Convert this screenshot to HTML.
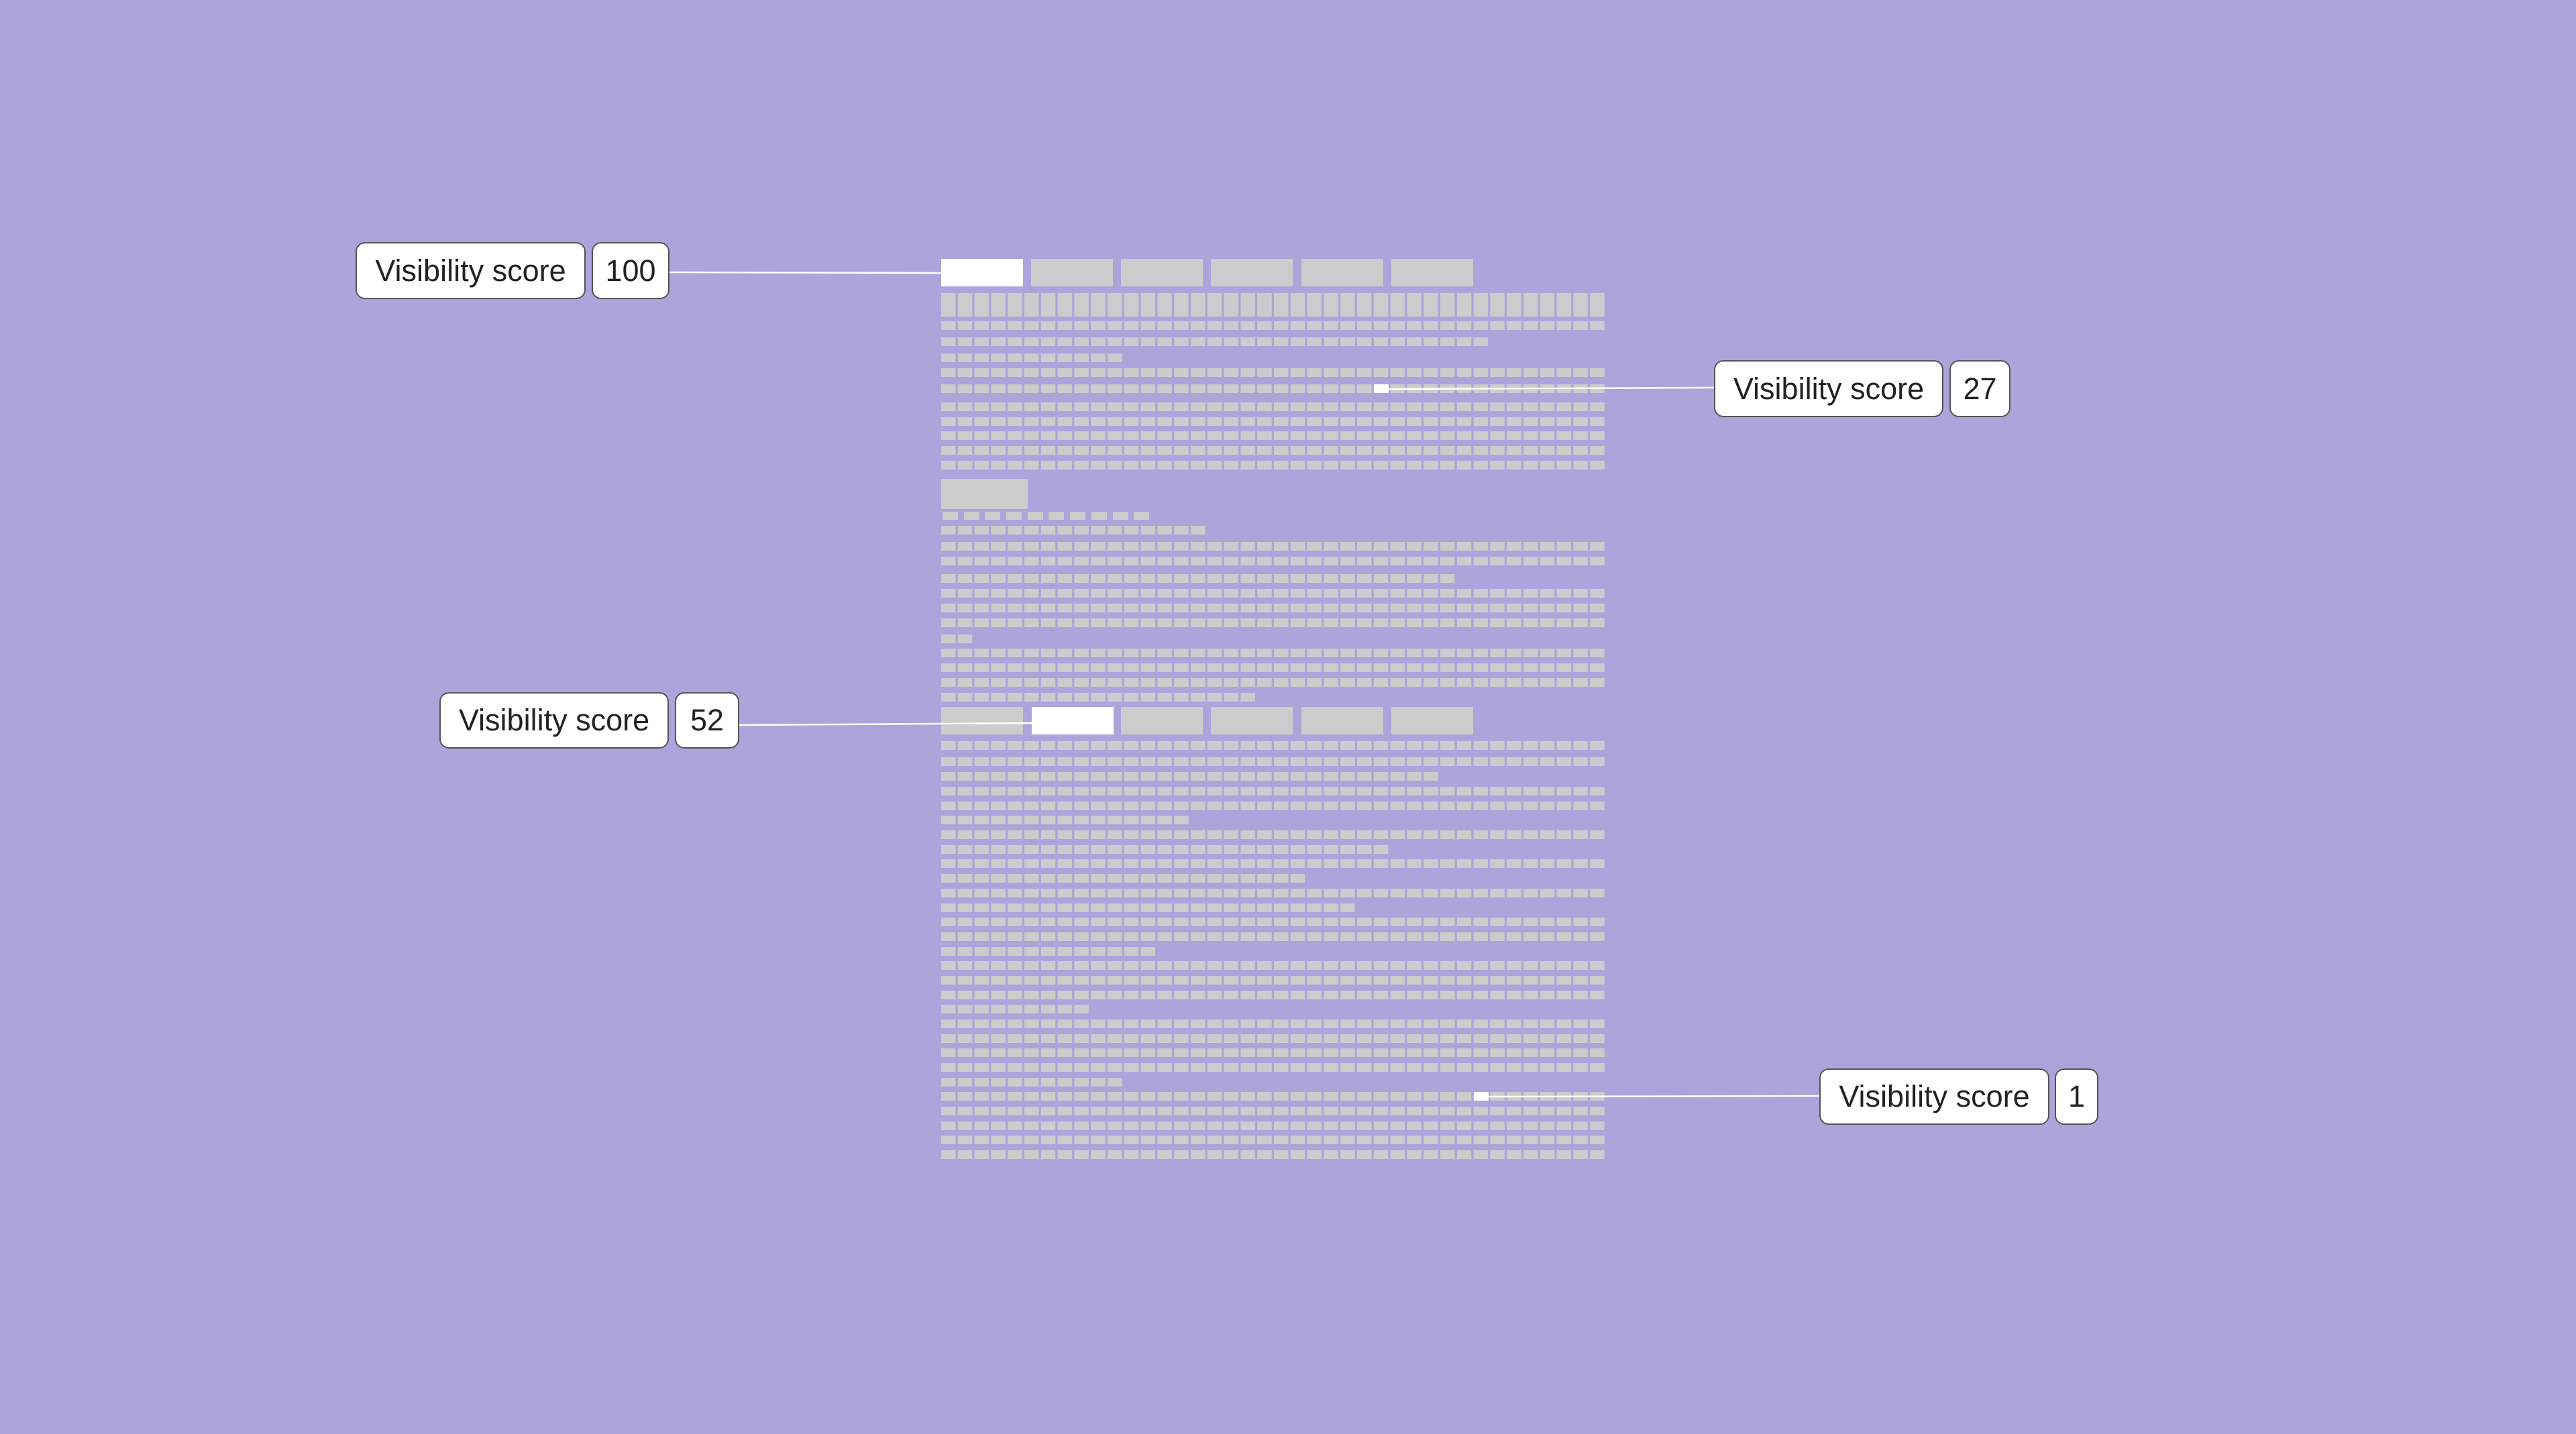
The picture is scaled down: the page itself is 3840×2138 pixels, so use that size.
<!DOCTYPE html>
<html><head><meta charset="utf-8">
<style>
html,body{margin:0;padding:0;background:#ABA5DB;}
body{width:3840px;height:2138px;overflow:hidden;position:relative;font-family:"Liberation Sans",sans-serif;}
svg{position:absolute;left:0;top:0;}
.b{position:absolute;box-sizing:border-box;background:#fff;border:2px solid #555;border-radius:14px;color:#222;font-size:45px;display:flex;align-items:center;justify-content:center;}
</style></head><body>
<svg width="3840" height="2138" viewBox="0 0 3840 2138">
<defs>
<pattern id="p" patternUnits="userSpaceOnUse" x="1403" y="0" width="24.8" height="2138">
<rect x="0" y="0" width="21.5" height="2138" fill="#CCCCCC"/>
</pattern>
</defs>
<g fill="url(#p)">
<rect x="1403" y="437" width="988.7" height="35"/>
<rect x="1403" y="479" width="988.7" height="13"/>
<rect x="1403" y="503" width="815.1" height="13"/>
<rect x="1403" y="527" width="269.5" height="13"/>
<rect x="1403" y="549" width="988.7" height="13"/>
<rect x="1403" y="573" width="988.7" height="13"/>
<rect x="1403" y="600" width="988.7" height="13"/>
<rect x="1403" y="622" width="988.7" height="13"/>
<rect x="1403" y="643" width="988.7" height="13"/>
<rect x="1403" y="665" width="988.7" height="13"/>
<rect x="1403" y="687" width="988.7" height="13"/>
<rect x="1403" y="784" width="393.5" height="13"/>
<rect x="1403" y="808" width="988.7" height="13"/>
<rect x="1403" y="830" width="988.7" height="13"/>
<rect x="1403" y="856" width="765.5" height="13"/>
<rect x="1403" y="878" width="988.7" height="13"/>
<rect x="1403" y="900" width="988.7" height="13"/>
<rect x="1403" y="922" width="988.7" height="13"/>
<rect x="1403" y="946" width="46.3" height="13"/>
<rect x="1403" y="967" width="988.7" height="13"/>
<rect x="1403" y="989" width="988.7" height="13"/>
<rect x="1403" y="1011" width="988.7" height="13"/>
<rect x="1403" y="1033" width="467.9" height="13"/>
<rect x="1403" y="1105" width="988.7" height="13"/>
<rect x="1403" y="1129" width="988.7" height="13"/>
<rect x="1403" y="1151" width="740.7" height="13"/>
<rect x="1403" y="1173" width="988.7" height="13"/>
<rect x="1403" y="1195" width="988.7" height="13"/>
<rect x="1403" y="1216" width="368.7" height="13"/>
<rect x="1403" y="1238" width="988.7" height="13"/>
<rect x="1403" y="1260" width="666.3" height="13"/>
<rect x="1403" y="1281" width="988.7" height="13"/>
<rect x="1403" y="1303" width="542.3" height="13"/>
<rect x="1403" y="1325" width="988.7" height="13"/>
<rect x="1403" y="1347" width="616.7" height="13"/>
<rect x="1403" y="1368" width="988.7" height="13"/>
<rect x="1403" y="1390" width="988.7" height="13"/>
<rect x="1403" y="1412" width="319.1" height="13"/>
<rect x="1403" y="1433" width="988.7" height="13"/>
<rect x="1403" y="1455" width="988.7" height="13"/>
<rect x="1403" y="1477" width="988.7" height="13"/>
<rect x="1403" y="1498" width="219.9" height="13"/>
<rect x="1403" y="1520" width="988.7" height="13"/>
<rect x="1403" y="1542" width="988.7" height="13"/>
<rect x="1403" y="1563" width="988.7" height="13"/>
<rect x="1403" y="1585" width="988.7" height="13"/>
<rect x="1403" y="1607" width="269.5" height="13"/>
<rect x="1403" y="1628" width="988.7" height="13"/>
<rect x="1403" y="1650" width="988.7" height="13"/>
<rect x="1403" y="1672" width="988.7" height="13"/>
<rect x="1403" y="1693" width="988.7" height="13"/>
<rect x="1403" y="1715" width="988.7" height="13"/>
</g>
<g fill="#CCCCCC">
<!-- tabs row 1 -->
<rect x="1537" y="386" width="122" height="41"/>
<rect x="1671" y="386" width="122" height="41"/>
<rect x="1805" y="386" width="122" height="41"/>
<rect x="1940" y="386" width="122" height="41"/>
<rect x="2074" y="386" width="122" height="41"/>
<!-- big block -->
<rect x="1403" y="714" width="129" height="45"/>
<!-- small squares -->
<rect x="1405" y="763" width="23" height="12"/>
<rect x="1437" y="763" width="23" height="12"/>
<rect x="1468" y="763" width="23" height="12"/>
<rect x="1500" y="763" width="23" height="12"/>
<rect x="1532" y="763" width="23" height="12"/>
<rect x="1563" y="763" width="23" height="12"/>
<rect x="1595" y="763" width="23" height="12"/>
<rect x="1627" y="763" width="23" height="12"/>
<rect x="1659" y="763" width="23" height="12"/>
<rect x="1690" y="763" width="23" height="12"/>
<!-- tabs row 2 -->
<rect x="1403" y="1054" width="122" height="41"/>
<rect x="1671" y="1054" width="122" height="41"/>
<rect x="1805" y="1054" width="122" height="41"/>
<rect x="1940" y="1054" width="122" height="41"/>
<rect x="2074" y="1054" width="122" height="41"/>
</g>
<g fill="#FFFFFF">
<rect x="1403" y="386" width="122" height="41"/>
<rect x="1538" y="1054" width="122" height="41"/>
<rect x="2048" y="573" width="22" height="13"/>
<rect x="2197" y="1628" width="22" height="13"/>
</g>
<g stroke="#FFFFFF" stroke-width="2.5">
<line x1="998" y1="406" x2="1403" y2="407"/>
<line x1="2070" y1="580" x2="2555" y2="578"/>
<line x1="1102" y1="1081" x2="1538" y2="1078"/>
<line x1="2219" y1="1635" x2="2712" y2="1634"/>
</g>
</svg>
<div class="b" style="left:530px;top:361px;width:343px;height:85px;">Visibility score</div>
<div class="b" style="left:882px;top:361px;width:116px;height:85px;">100</div>
<div class="b" style="left:2555px;top:537px;width:342px;height:85px;">Visibility score</div>
<div class="b" style="left:2906px;top:537px;width:91px;height:85px;">27</div>
<div class="b" style="left:655px;top:1032px;width:342px;height:84px;">Visibility score</div>
<div class="b" style="left:1006px;top:1032px;width:96px;height:84px;">52</div>
<div class="b" style="left:2712px;top:1593px;width:343px;height:84px;">Visibility score</div>
<div class="b" style="left:3063px;top:1593px;width:65px;height:84px;">1</div>
</body></html>
